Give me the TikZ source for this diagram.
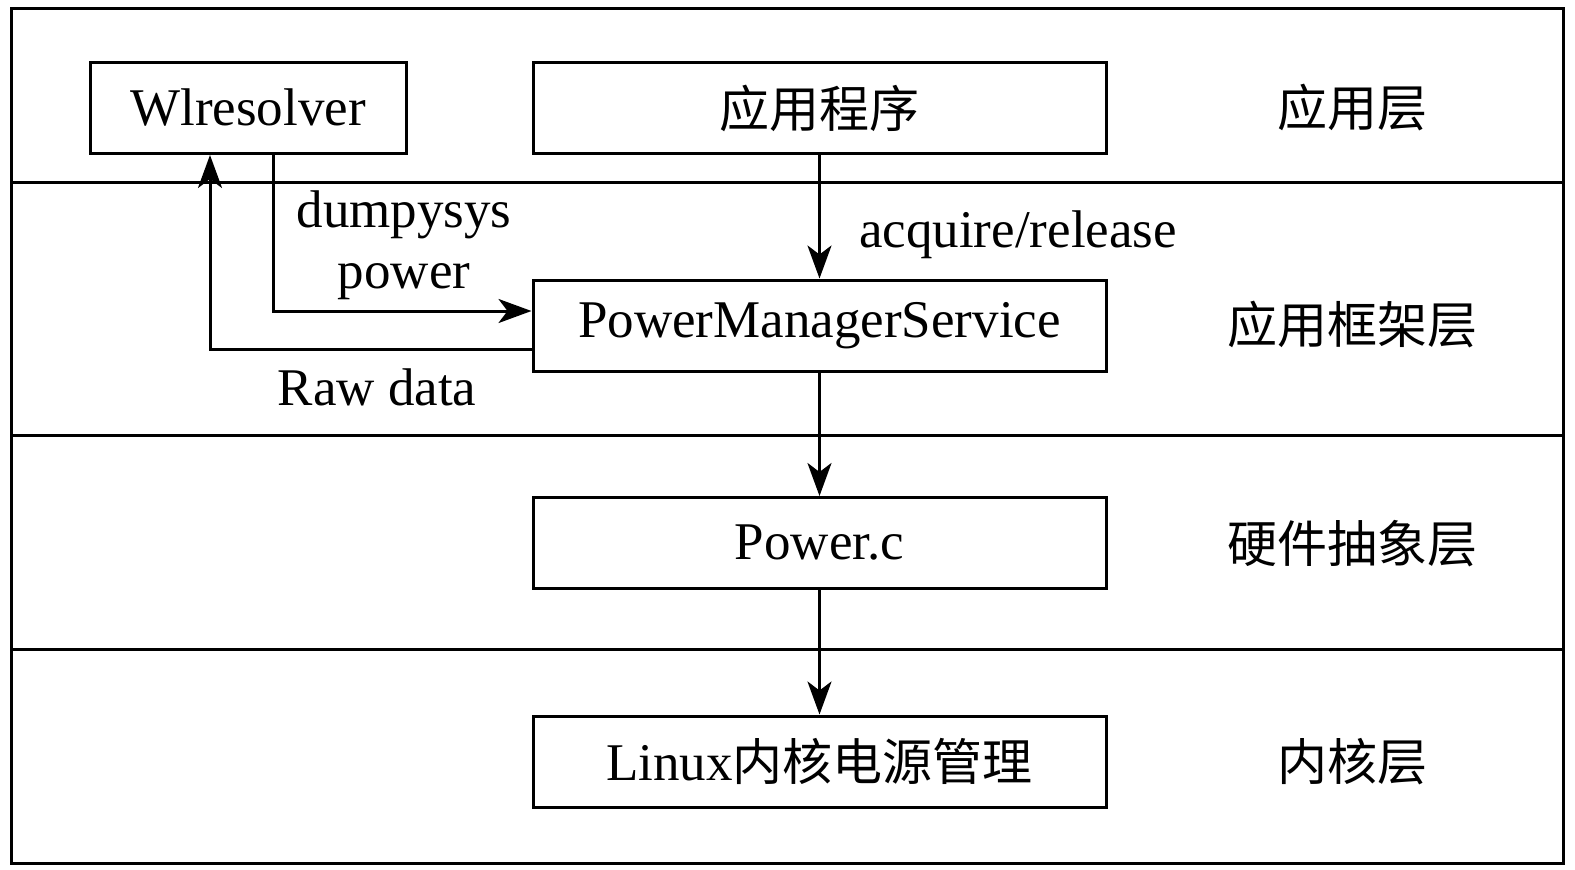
\documentclass[tikz,border=0pt]{standalone}
\usepackage{fontspec}
\setmainfont{Liberation Serif}
\newfontfamily\cjk{Noto Sans CJK SC}
\usetikzlibrary{arrows.meta}
\begin{document}
\begin{tikzpicture}[x=1pt,y=-1pt,
  every node/.style={font=\fontsize{53}{60}\selectfont},
  box/.style={draw, line width=3pt, minimum height=91pt, inner sep=0pt},
  cjkfont/.style={font=\fontsize{50}{60}\selectfont\cjk},
  arr/.style={line width=3pt, -{Stealth[length=33pt,width=24pt,inset=9pt]}},
  ln/.style={line width=3pt}]
\useasboundingbox (0,0) rectangle (1575,870);
% frame and layer separators
\draw[ln] (11,8) rectangle (1563,863);
\draw[ln] (11,182) -- (1563,182);
\draw[ln] (11,435) -- (1563,435);
\draw[ln] (11,649) -- (1563,649);
% boxes
\node[box, minimum width=316pt] (wl) at (248,108) {Wlresolver};
\node[box, minimum width=573pt, cjkfont] (app) at (819.5,108) {应用程序};
\node[box, minimum width=573pt] (pms) at (819.5,325.5) {PowerManagerService};
\node[box, minimum width=573pt] (pc) at (819.5,543) {Power.c};
\node[box, minimum width=573pt] (lx) at (819.5,761.5) {Linux{\cjk\fontsize{50}{60}\selectfont 内核电源管理}};
% layer labels
\node[cjkfont] (L1) at (1352,108) {应用层};
\node[cjkfont] (L2) at (1352,325) {应用框架层};
\node[cjkfont] (L3) at (1352,544) {硬件抽象层};
\node[cjkfont] (L4) at (1352,762) {内核层};
% connectors
\draw[arr] (app) -- (pms);
\draw[arr] (pms) -- (pc);
\draw[arr] (pc) -- (lx);
\draw[arr] ([xshift=25pt]wl.south) |- ([yshift=14.5pt]pms.west);
\draw[arr] ([yshift=-23.5pt]pms.west) -| ([xshift=-38pt]wl.south);
% labels
\node[anchor=base] (t1) at (404,227) {dumpysys};
\node[anchor=base] (t2) at (404,288) {power};
\node[anchor=base] (t3) at (377,405) {Raw data};
\node[anchor=base] (t4) at (1018,247) {acquire/release};
\end{tikzpicture}
\end{document}
